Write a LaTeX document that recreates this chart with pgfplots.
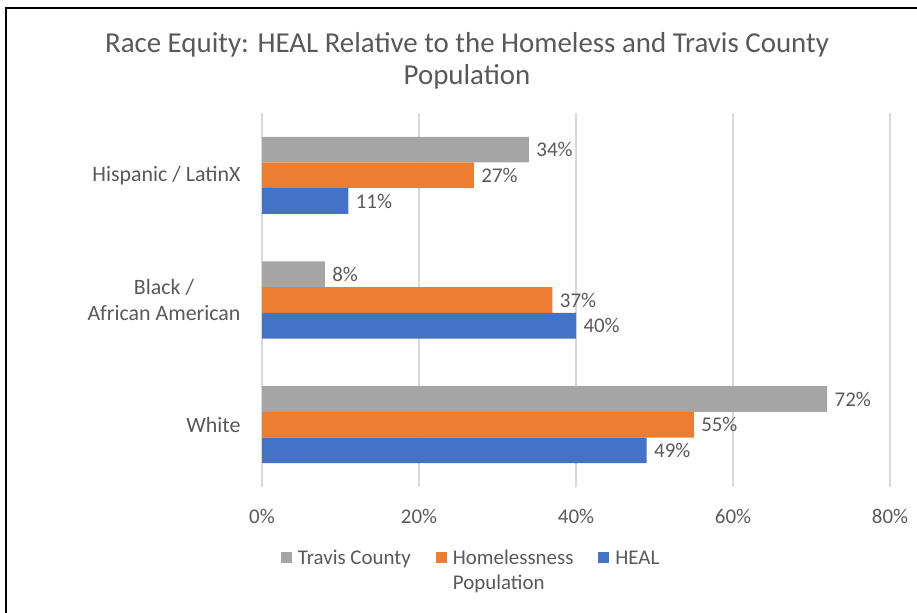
\documentclass[border=0pt]{standalone}
\usepackage{fontspec}
\setmainfont{Carlito}
\usepackage{pgfplots}
\pgfplotsset{compat=1.18}
\definecolor{txt}{HTML}{595959}
\definecolor{gridc}{HTML}{D9D9D9}
\definecolor{travis}{HTML}{A5A5A5}
\definecolor{homeless}{HTML}{ED7D31}
\definecolor{heal}{HTML}{4472C4}
\pgfplotsset{sqlegend/.style={legend image code/.code={\fill[##1] (0bp,2bp) rectangle (11bp,13bp);}}}
\newcommand{\lbl}{\fontsize{21}{25}\selectfont}

\begin{document}
\begin{tikzpicture}
\path[use as bounding box] (0bp,0bp) rectangle (917bp,613bp);
\draw[line width=2bp, black] (6bp,0bp) -- (6bp,605bp) -- (917bp,605bp);
\node[font=\fontsize{29}{32}\selectfont, text=txt, align=center] at (467bp,552bp)
  {Race Equity: HEAL Relative to the Homeless and Travis County\\Population};
\begin{axis}[
  at={(262bp,126bp)}, anchor=south west,
  width=628bp, height=374bp, scale only axis,
  xbar,
  xmin=0, xmax=80, ymin=-0.5, ymax=2.5,
  /pgf/number format/assume math mode=true,
  xtick={0,20,40,60,80},
  xticklabel={\pgfmathprintnumber{\tick}\%},
  ytick={0,1,2},
  yticklabels={White,{Black /\\African American},Hispanic / LatinX},
  yticklabel style={align=center, xshift=-18bp, font=\fontsize{22}{26}\selectfont},
  xticklabel style={yshift=-19bp},
  every tick label/.append style={font=\lbl, text=txt},
  axis line style={draw=none},
  tick style={draw=none},
  major tick length=0pt,
  xmajorgrids,
  grid style={gridc, line width=1.3bp},
  bar width=0.206,
  nodes near coords={\pgfmathprintnumber{\pgfplotspointmeta}\%},
  every node near coord/.append style={font=\lbl, text=txt, xshift=4bp},
  legend columns=3,
  legend style={at={(0.025,-0.15)}, anchor=north west, draw=none,
    font=\lbl, text=txt,
    cells={anchor=base west},
    /tikz/every odd column/.append style={column sep=4bp},
    /tikz/every even column/.append style={column sep=23bp}},
]
\addplot[fill=travis, draw=none, bar shift=0.206, sqlegend] coordinates {(72,0) (8,1) (34,2)};
\addplot[fill=homeless, draw=none, bar shift=0, sqlegend] coordinates {(55,0) (37,1) (27,2)};
\addplot[fill=heal, draw=none, bar shift=-0.206, sqlegend] coordinates {(49,0) (40,1) (11,2)};
\addlegendentry{Travis County}
\addlegendentry{\begin{tabular}[t]{@{}l@{}}Homelessness\\Population\end{tabular}}
\addlegendentry{HEAL}
\end{axis}
\end{tikzpicture}
\end{document}
